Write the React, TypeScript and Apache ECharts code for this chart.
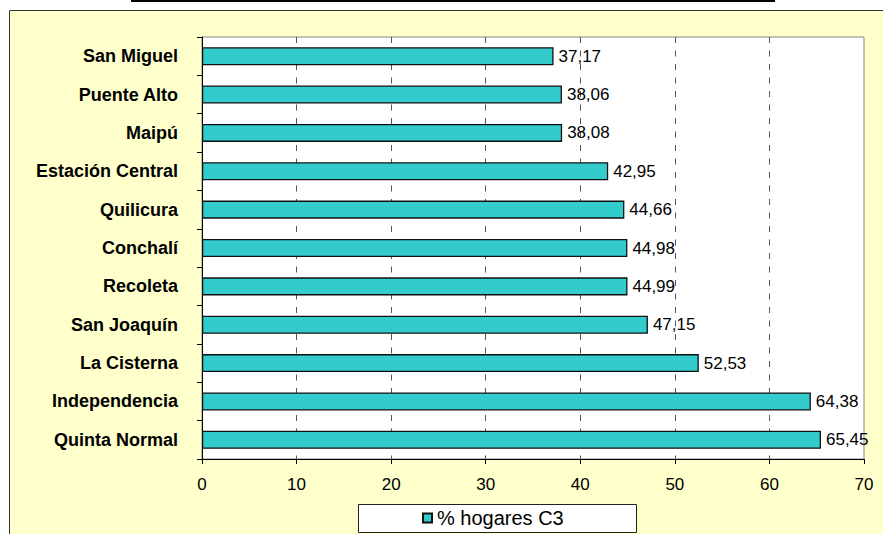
import React, { useEffect, useRef } from "react";
import * as echarts from "echarts";

// Comunas ordered top to bottom
const comunas: string[] = [
  "San Miguel",
  "Puente Alto",
  "Maipú",
  "Estación Central",
  "Quilicura",
  "Conchalí",
  "Recoleta",
  "San Joaquín",
  "La Cisterna",
  "Independencia",
  "Quinta Normal",
];

// Share of C3 households (%) per comuna
const hogaresC3: number[] = [
  37.17, 38.06, 38.08, 42.95, 44.66, 44.98, 44.99, 47.15, 52.53, 64.38, 65.45,
];

const seriesName = "% hogares C3";
const axisMin = 0;
const axisMax = 70;
const axisStep = 10;

const FONT = "'Liberation Sans', Arial, Helvetica, sans-serif";

export default function App() {
  const ref = useRef<HTMLDivElement>(null);

  useEffect(() => {
    if (!ref.current) return;
    const chart = echarts.init(ref.current, undefined, { renderer: "svg" });

    chart.setOption({
      animation: false,
      backgroundColor: "#ffffff",
      textStyle: { fontFamily: FONT },
      graphic: [
        {
          type: "rect",
          z: -10,
          silent: true,
          shape: { x: 9.5, y: 10.5, width: 900, height: 600 },
          style: { fill: "#FFFFCC", stroke: "#333333", lineWidth: 1 },
        },
        {
          type: "rect",
          z: -10,
          silent: true,
          shape: { x: 131, y: 0, width: 644, height: 2 },
          style: { fill: "#000000" },
        },
        {
          type: "rect",
          z: -5,
          silent: true,
          shape: { x: 358.5, y: 504.5, width: 278, height: 28 },
          style: { fill: "#ffffff", stroke: "#222222", lineWidth: 1 },
        },
      ],
      grid: {
        show: true,
        left: 202,
        top: 37,
        right: 19,
        bottom: 75,
        backgroundColor: "#ffffff",
        borderColor: "#888888",
        borderWidth: 1,
        containLabel: false,
      },
      legend: {
        left: 422,
        top: 508,
        padding: 0,
        itemWidth: 9,
        itemHeight: 9,
        itemGap: 5,
        icon: "rect",
        data: [seriesName],
        textStyle: { fontFamily: FONT, fontSize: 20, color: "#000" },
      },
      xAxis: {
        type: "value",
        min: axisMin,
        max: axisMax,
        interval: axisStep,
        axisLine: { show: true, lineStyle: { color: "#000", width: 1 } },
        axisTick: { show: true, length: 5, lineStyle: { color: "#000" } },
        axisLabel: {
          margin: 17,
          color: "#000",
          fontFamily: FONT,
          fontSize: 17,
        },
        splitLine: {
          show: true,
          showMinLine: false,
          showMaxLine: false,
          lineStyle: { color: "#555555", width: 1, type: [6, 7.5] },
        },
      },
      yAxis: {
        type: "category",
        inverse: true,
        data: comunas,
        axisLine: { show: true, lineStyle: { color: "#000", width: 1 } },
        axisTick: { show: true, length: 5, lineStyle: { color: "#000" } },
        axisLabel: {
          margin: 24,
          color: "#000",
          fontFamily: FONT,
          fontSize: 18,
          fontWeight: "bold",
        },
        splitLine: { show: false },
      },
      series: [
        {
          name: seriesName,
          type: "bar",
          data: hogaresC3,
          barCategoryGap: "53%",
          itemStyle: {
            color: "#33CCCC",
            borderColor: "#111111",
            borderWidth: 1.3,
          },
          label: {
            show: true,
            position: "right",
            distance: 5,
            color: "#000",
            fontFamily: FONT,
            fontSize: 17,
            formatter: (p: any) => Number(p.value).toFixed(2).replace(".", ","),
          },
        },
      ],
    });

    return () => chart.dispose();
  }, []);

  return (
    <div
      ref={ref}
      style={{ position: "fixed", left: 0, top: 0, width: 883, height: 534 }}
    />
  );
}
